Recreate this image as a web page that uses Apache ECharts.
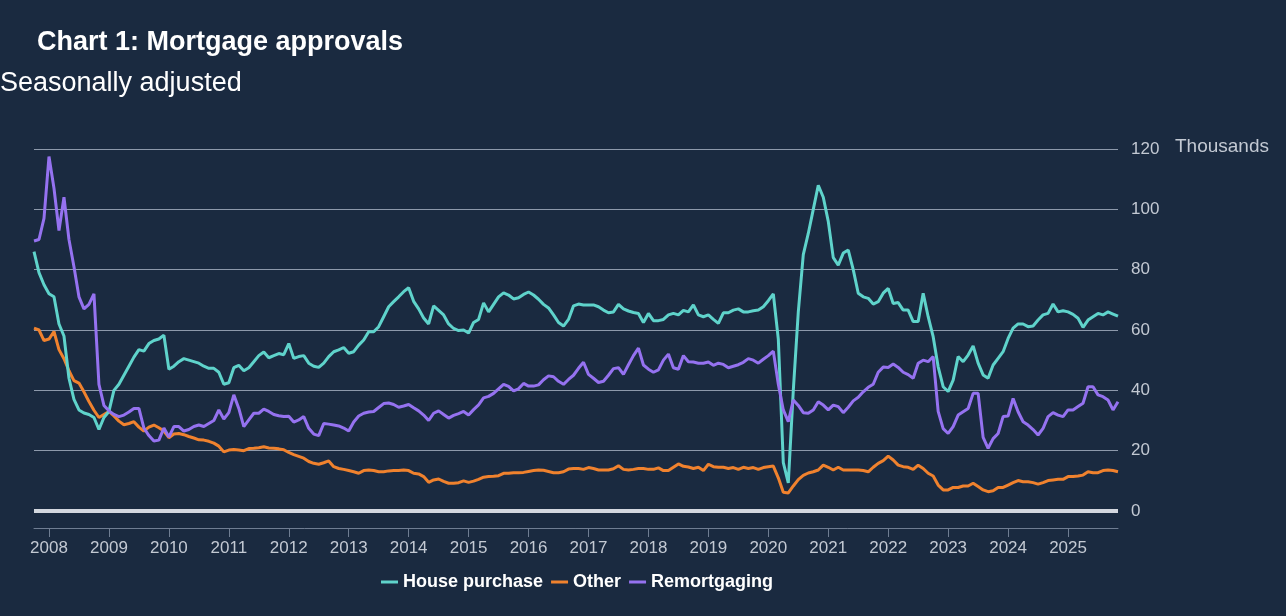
<!DOCTYPE html>
<html>
<head>
<meta charset="utf-8">
<script src="https://cdn.jsdelivr.net/npm/echarts@6/dist/echarts.min.js"></script>
<style>
html,body{margin:0;padding:0;background:#1a2a40;}
#chart{width:1286px;height:616px;}
</style>
</head>
<body>
<div id="chart"></div>
<script>
// Monthly, Oct 2007 .. Nov 2025 (218 months)
const startYear = 2007, startMonth = 10, nMonths = 218;
const months = [];
for (let i = 0; i < nMonths; i++) {
  const t = (startMonth - 1) + i;
  const y = startYear + Math.floor(t / 12), m = (t % 12) + 1;
  months.push(y + '-' + (m < 10 ? '0' + m : m));
}

const housePurchase = [
  86, 79, 75, 72, 71, 62, 58, 44, 37, 33.5,
  32.5, 32, 31, 27, 31, 33, 40, 42, 45, 48,
  51, 53.5, 53, 55.5, 56.5, 57, 58.3, 47, 48, 49.5,
  50.5, 50, 49.5, 49, 48, 47.3, 47.3, 46, 42, 42.5,
  47.5, 48.3, 46.5, 47.5, 49.5, 51.5, 52.7, 50.8, 51.5, 52.2,
  51.8, 55.5, 50.6, 51.2,
  51.5, 49, 48, 47.6, 49, 51.2,
  52.8, 53.4, 54.2, 52.3, 52.8, 55, 56.7, 59.4, 59.4, 61.1,
  64.4, 67.7, 69.4, 71, 72.7, 74, 69.5, 67, 64, 62,
  68, 66.5, 65, 62, 60.5, 59.8, 60, 59, 62.5, 63.5,
  69, 66, 68.5, 71, 72.3, 71.6, 70.3, 70.7, 71.8, 72.6,
  71.6, 70.2, 68.5, 67.3, 65, 62.5, 61.3, 63.5, 68,
  68.6, 68.3, 68.3, 68.3, 67.7, 66.6, 65.7, 66, 68.5, 67, 66.3,
  65.8, 65.5, 62.5, 65.5, 63.1, 63.1, 63.5, 65, 65.5, 65,
  66.5, 66, 68.3, 65, 64.4, 65, 63.5, 62.2, 65.7, 65.7,
  66.6, 67, 66, 66, 66.4, 66.6, 67.7, 69.7, 72,
  57, 16, 9.3, 40, 66, 85, 92, 100, 108, 104,
  96, 84, 81.5, 85.5, 86.5,
  80, 72.2, 71, 70.5, 68.6, 69.4, 72.2, 73.8, 68.8, 69.1,
  66.6, 66.6, 62.8, 62.8, 72.2, 64.4, 57.8, 47.8, 41.2, 39.6,
  43.4, 51.2, 49.5, 51.7, 54.7, 49, 45.1, 44, 48.4, 50.6,
  52.8, 57.2, 60.6, 62, 62, 61.1, 61.3, 63.3, 65, 65.5,
  68.6, 66, 66.4, 66, 65.2, 63.9, 60.9, 63.3, 64.4, 65.5,
  65, 66, 65.3, 64.6
];

const other = [
  60.6, 60, 56.5, 57, 59.5, 53.5, 50.5, 46.5, 43.2, 42.4,
  39.5, 36.3, 33.4, 31, 32, 33, 31.5, 29.8, 28.6, 29,
  29.6, 27.8, 26.5, 27.8, 28.5, 27.6, 26.5, 24.3, 25.5, 25.7,
  25.3, 24.7, 24.2, 23.6, 23.5, 23.1, 22.5, 21.5, 19.6, 20.2,
  20.4, 20.2, 20, 20.7, 20.8, 21, 21.3, 20.9, 20.8, 20.6,
  20.3, 19.4, 18.7, 18.1,
  17.5, 16.4, 15.8, 15.5, 16, 16.6,
  14.7, 14.1, 13.8, 13.4, 13, 12.5, 13.4, 13.6, 13.4, 13,
  13, 13.3, 13.4, 13.4, 13.6, 13.4, 12.5, 12.3, 11.4, 9.5,
  10.3, 10.6, 9.8, 9.2, 9.2, 9.4, 10, 9.5, 9.9, 10.5,
  11.2, 11.4, 11.5, 11.7, 12.5, 12.5, 12.7, 12.7, 12.8, 13.1,
  13.4, 13.6, 13.5, 13.1, 12.7, 12.7, 13, 13.9, 14.1,
  14.1, 13.8, 14.4, 14.1, 13.6, 13.6, 13.6, 14, 15, 13.8, 13.6,
  13.8, 14.1, 14.1, 13.8, 13.8, 14.3, 13.4, 13.4, 14.5, 15.6,
  14.8, 14.6, 14.1, 14.5, 13.4, 15.5, 14.7, 14.5, 14.5, 14.1,
  14.4, 13.8, 14.5, 14.1, 14.4, 13.8, 14.4, 14.7, 14.9,
  11, 6.2, 6, 8.3, 10.4, 11.8, 12.6, 13, 13.6, 15.2,
  14.5, 13.6, 14.5, 13.6, 13.6,
  13.6, 13.6, 13.4, 13, 14.5, 15.8, 16.7, 18.2, 16.9, 15.2,
  14.7, 14.5, 13.8, 15.2, 14.1, 12.5, 11.6, 8.6, 7, 7,
  7.8, 7.8, 8.3, 8.3, 9.2, 8.1, 7, 6.4, 6.7, 7.8,
  7.8, 8.6, 9.4, 10.1, 9.7, 9.7, 9.4, 8.9, 9.4, 10.1,
  10.3, 10.5, 10.5, 11.4, 11.4, 11.6, 11.9, 13, 12.7, 12.7,
  13.4, 13.6, 13.4, 13
];

const remortgaging = [
  89.5, 90, 97, 117.5, 107, 93, 104, 90, 81, 71,
  67, 68.5, 72, 42, 35, 33.2, 32, 31.3, 31.8, 32.8,
  34, 34, 27.5, 25, 23.2, 23.5, 27.5, 24.5, 28, 28,
  26.5, 27, 28, 28.5, 28, 29, 30, 33.5, 30.5, 32.6,
  38.5, 34, 28, 30.2, 32.4, 32.4, 33.8, 33, 32, 31.6,
  31.3, 31.4, 29.5, 30.2,
  31.3, 27.4, 25.5, 25, 29, 28.8,
  28.5, 28.2, 27.5, 26.5, 29.5, 31.5, 32.4, 32.8, 33, 34.3,
  35.6, 35.8, 35.3, 34.4, 34.8, 35.3, 34.2, 33.2, 31.8, 30,
  32.4, 33.2, 32, 30.8, 31.7, 32.3, 33, 31.8, 33.6, 35.2,
  37.5, 38, 39, 40.5, 42, 41.3, 39.8, 40.5, 42.3, 41.4,
  41.4, 41.8, 43.5, 44.8, 44.5, 43, 42, 43.6, 45,
  47.3, 49.3, 45.3, 44, 42.6, 43, 45, 47.2, 47.5, 45.3, 48.5,
  51.5, 54, 48.4, 47, 46, 46.8, 50, 52, 47.5, 47,
  51.5, 49.5, 49.4, 49, 49, 49.4, 48.3, 49, 48.6, 47.5,
  48, 48.5, 49.3, 50.5, 50, 49, 50.3, 51.5, 53,
  42, 33.5, 29.6, 36.8, 35, 32.6, 32.4, 33.5, 36.2, 35.1,
  33.5, 35.1, 34.6, 32.6, 34.4,
  36.5, 37.7, 39.5, 41, 42, 46, 47.7, 47.6, 48.7, 47.6,
  46, 45.2, 44, 49, 50, 49.5, 51.2, 33, 27.3, 25.7,
  28, 31.8, 32.9, 34, 39, 39, 24.4, 20.8, 24, 25.7,
  31.3, 31.5, 37.3, 32.9, 29.6, 28.5, 27, 25.2, 27.4, 31.3,
  32.6, 31.8, 31.3, 33.5, 33.5, 34.6, 35.7, 41.2, 41.2, 38.5,
  37.9, 36.8, 33.5, 36.2
];

const seriesNames = ['House purchase', 'Other', 'Remortgaging'];
const colors = ['#5fd3cb', '#f0822e', '#9572f0'];

const FONT = "'Liberation Sans', Arial, sans-serif";
const isJan = (idx, val) => val.slice(5) === '01';

const chart = echarts.init(document.getElementById('chart'));
chart.setOption({
  backgroundColor: '#1a2a40',
  animation: false,
  title: [
    { text: 'Chart 1: Mortgage approvals', left: 37, top: 29, padding: 0,
      textStyle: { color: '#ffffff', fontSize: 27, fontWeight: 'bold', fontFamily: FONT } },
    { text: 'Seasonally adjusted', left: 0, top: 70, padding: 0,
      textStyle: { color: '#ffffff', fontSize: 27, fontWeight: 'normal', fontFamily: FONT } },
    { text: 'Thousands', left: 1175, top: 137, padding: 0,
      textStyle: { color: '#c3c9d3', fontSize: 19, fontWeight: 'normal', fontFamily: FONT } }
  ],
  legend: {
    data: seriesNames,
    left: 376,
    top: 568,
    icon: 'rect',
    itemWidth: 17,
    itemHeight: 3,
    itemGap: 8,
    textStyle: { color: '#ffffff', fontSize: 18, fontWeight: 'bold', fontFamily: FONT }
  },
  grid: { left: 34, right: 168, top: 149, bottom: 105, containLabel: false },
  xAxis: {
    type: 'category',
    data: months,
    boundaryGap: false,
    offset: 17,
    axisLine: { show: true, onZero: false, lineStyle: { color: '#6f7d92', width: 1 } },
    axisTick: { show: true, interval: isJan, length: 9, lineStyle: { color: '#6f7d92' } },
    axisLabel: {
      interval: isJan, margin: 12, color: '#c3c9d3', fontSize: 17, fontFamily: FONT,
      formatter: v => v.slice(0, 4)
    },
    splitLine: { show: false }
  },
  yAxis: {
    type: 'value',
    position: 'right',
    min: 0, max: 120, interval: 20,
    axisLine: { show: false },
    axisTick: { show: false },
    axisLabel: { color: '#c3c9d3', fontSize: 17, fontFamily: FONT, margin: 13 },
    splitLine: { show: true, lineStyle: { color: '#8d99ab', width: 1 } }
  },
  series: [
    {
      name: seriesNames[0], type: 'line', data: housePurchase, showSymbol: false,
      lineStyle: { color: colors[0], width: 3 }, itemStyle: { color: colors[0] }, z: 3,
      markLine: {
        silent: true, symbol: ['none', 'none'], label: { show: false },
        lineStyle: { color: '#d3d7df', width: 4, type: 'solid' },
        data: [{ yAxis: 0 }]
      }
    },
    {
      name: seriesNames[1], type: 'line', data: other, showSymbol: false,
      lineStyle: { color: colors[1], width: 3 }, itemStyle: { color: colors[1] }, z: 2
    },
    {
      name: seriesNames[2], type: 'line', data: remortgaging, showSymbol: false,
      lineStyle: { color: colors[2], width: 3 }, itemStyle: { color: colors[2] }, z: 4
    }
  ]
});
</script>
</body>
</html>
